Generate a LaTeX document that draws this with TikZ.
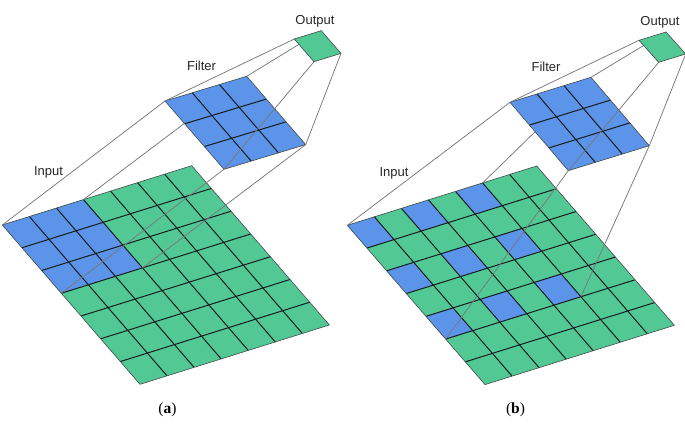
\documentclass[tikz,border=0pt]{standalone}
\usepackage{fontspec}
\setmainfont{Liberation Serif}
\setsansfont{Liberation Sans}
\definecolor{cellgreen}{RGB}{82,201,148}
\definecolor{cellblue}{RGB}{91,148,232}
\definecolor{linkgray}{RGB}{120,120,125}
\definecolor{gridink}{RGB}{20,30,30}
\tikzset{
  cellgreenfill/.style={fill=cellgreen},
  cellbluefill/.style={fill=cellblue},
  gridline/.style={draw=gridink,line width=1pt},
  edgeline/.style={draw=gridink!80,line width=0.6pt,line join=round},
  linkline/.style={draw=linkgray,line width=0.75pt},
  lab/.style={font=\sffamily\fontsize{13}{15}\selectfont,text=black!85,inner sep=0pt},
  captionlab/.style={font=\rmfamily\fontsize{15.5}{17}\selectfont,inner sep=0pt},
}
% prefix, origin x,y, corner u x,y, corner v x,y, cells per side
\newcommand{\mkgrid}[8]{%
  \foreach \ii in {0,...,#8}{\foreach \jj in {0,...,#8}{%
    \pgfmathsetmacro{\px}{#2+\ii/#8*(#4-#2)+\jj/#8*(#6-#2)}%
    \pgfmathsetmacro{\py}{#3+\ii/#8*(#5-#3)+\jj/#8*(#7-#3)}%
    \coordinate (#1-\ii-\jj) at (\px,\py);
  }}%
}
\newcommand{\paintgrid}[3]{% prefix, cells, fill style
  \fill[#3] (#1-0-0) -- (#1-#2-0) -- (#1-#2-#2) -- (#1-0-#2) -- cycle;
}
\newcommand{\paintcell}[2]{% prefix, i/j
  \foreach \ii/\jj in {#2}{%
    \pgfmathtruncatemacro{\iin}{\ii+1}\pgfmathtruncatemacro{\jjn}{\jj+1}%
    \fill[cellbluefill] (#1-\ii-\jj) -- (#1-\iin-\jj) -- (#1-\iin-\jjn) -- (#1-\ii-\jjn) -- cycle;
  }%
}
\newcommand{\inkgrid}[2]{% prefix, n
  \ifnum#2>1
  \pgfmathtruncatemacro{\nm}{#2-1}%
  \foreach \kk in {1,...,\nm}{%
    \draw[gridline] (#1-\kk-0) -- (#1-\kk-#2);
    \draw[gridline] (#1-0-\kk) -- (#1-#2-\kk);
  }%
  \fi
  \draw[edgeline] (#1-0-0) -- (#1-#2-0) -- (#1-#2-#2) -- (#1-0-#2) -- cycle;
}
\begin{document}
\begin{tikzpicture}[x=1pt,y=-1pt]
\useasboundingbox (0,0) rectangle (685,430);
\clip (0,0) rectangle (685,430);
% ---- panel a
\mkgrid{ia}{2.3}{225}{191.7}{165.7}{140}{384.3}{7}
\mkgrid{fa}{165}{101}{246.7}{76.3}{224}{169.3}{3}
\mkgrid{oa}{294.3}{39}{321.3}{30.7}{314}{61.7}{1}
% ---- panel b
\mkgrid{ib}{347.3}{225.3}{536.7}{166}{485}{384.6}{7}
\mkgrid{fb}{510}{102.3}{591}{77.3}{568.3}{170.7}{3}
\mkgrid{ob}{639}{40.3}{666}{32}{658.7}{62.3}{1}
% input sheets
\paintgrid{ia}{7}{cellgreenfill}
\paintcell{ia}{0/0,1/0,2/0,0/1,1/1,2/1,0/2,1/2,2/2}
\inkgrid{ia}{7}
\paintgrid{ib}{7}{cellgreenfill}
\paintcell{ib}{0/0,2/0,4/0,0/2,2/2,4/2,0/4,2/4,4/4}
\inkgrid{ib}{7}
% links input -> filter
\draw[linkline] (ia-0-0) -- (fa-0-0);
\draw[linkline] (ia-3-0) -- (fa-3-0);
\draw[linkline] (ia-0-3) -- (fa-0-3);
\draw[linkline] (ia-3-3) -- (fa-3-3);
\draw[linkline] (ib-0-0) -- (fb-0-0);
\draw[linkline] (ib-5-0) -- (fb-3-0);
\draw[linkline] (ib-0-5) -- (fb-0-3);
\draw[linkline] (ib-5-5) -- (fb-3-3);
% filters
\paintgrid{fa}{3}{cellbluefill}
\inkgrid{fa}{3}
\paintgrid{fb}{3}{cellbluefill}
\inkgrid{fb}{3}
% links filter -> output
\draw[linkline] (fa-0-0) -- (oa-0-0);
\draw[linkline] (fa-3-0) -- (oa-1-0);
\draw[linkline] (fa-0-3) -- (oa-0-1);
\draw[linkline] (fa-3-3) -- (oa-1-1);
\draw[linkline] (fb-0-0) -- (ob-0-0);
\draw[linkline] (fb-3-0) -- (ob-1-0);
\draw[linkline] (fb-0-3) -- (ob-0-1);
\draw[linkline] (fb-3-3) -- (ob-1-1);
% outputs
\paintgrid{oa}{1}{cellgreenfill}
\inkgrid{oa}{1}
\paintgrid{ob}{1}{cellgreenfill}
\inkgrid{ob}{1}
% labels
\node[lab] (inputa) at (48.5,172) {Input};
\node[lab] (filtera) at (201.5,66) {Filter};
\node[lab] (outputa) at (315,21.5) {Output};
\node[lab] (inputb) at (394,173) {Input};
\node[lab] (filterb) at (546,67) {Filter};
\node[lab] (outputb) at (660,22.5) {Output};
\node[captionlab] (capa) at (167.5,409.5) {(\textbf{a})};
\node[captionlab] (capb) at (515.5,409.5) {(\textbf{b})};
\end{tikzpicture}
\end{document}
